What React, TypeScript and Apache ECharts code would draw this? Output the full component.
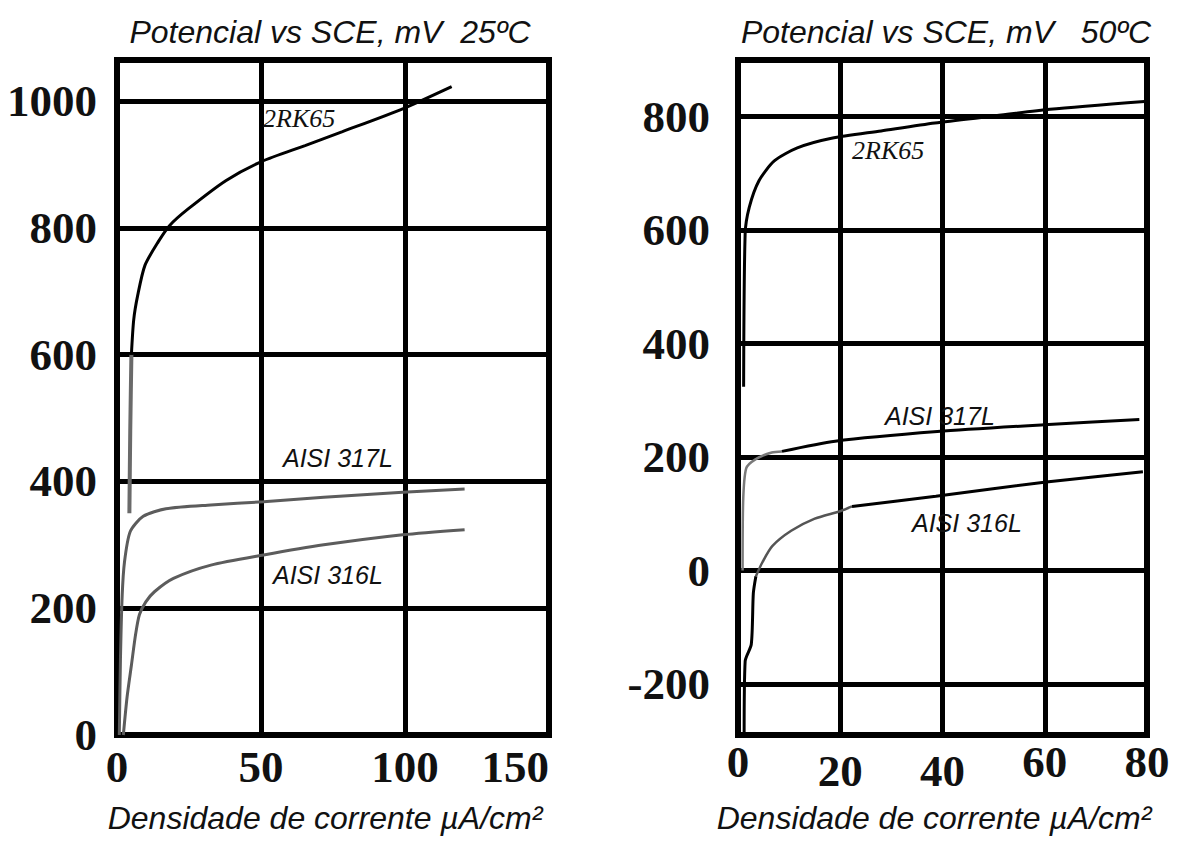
import React, { useEffect, useRef } from "react";
import * as echarts from "echarts";

type Pt = [number, number];

// ---- Axis settings (25 ºC panel) ----
const x25Min = 0;
const x25Max = 150;
const x25Step = 50;
const y25Min = 0;
const y25Max = 1065;
const y25Step = 200;

// ---- Axis settings (50 ºC panel) ----
const x50Min = 0;
const x50Max = 80;
const x50Step = 20;
const y50Min = -290;
const y50Max = 900;
const y50Split = 6;

// ---- Texts ----
const title25 = "Potencial vs SCE, mV  25ºC";
const title50 = "Potencial vs SCE, mV   50ºC";
const xName = "Densidade de corrente µA/cm²";
const nameRK = "2RK65";
const name317 = "AISI 317L";
const name316 = "AISI 316L";

// ---- 25 ºC curves: [current density µA/cm², potential mV] ----
const rk65at25Base: Pt[] = [[4.3, 350], [4.6, 480], [5.0, 600]];
const rk65at25: Pt[] = [
  [5.0, 600], [5.8, 655], [7.2, 694], [9.7, 741], [14.3, 778], [18.3, 804],
  [24.7, 830], [37.9, 875], [50.3, 905], [65.3, 930], [78.3, 952], [99.2, 988], [116.2, 1023],
];
const s317at25: Pt[] = [
  [0.8, 0], [1.2, 120], [1.8, 220], [2.6, 273], [4.6, 321], [9.1, 345], [17, 357],
  [32.6, 363], [50.9, 368], [71.8, 375], [99.2, 383], [120.7, 388],
];
const s316at25: Pt[] = [
  [2.2, 0], [3.5, 60], [5.0, 110], [6.5, 160], [7.8, 190], [10, 210], [13, 226],
  [19.6, 247], [32.6, 268], [50.9, 284], [71.8, 300], [99.2, 316], [120.7, 324],
];

// ---- 50 ºC curves ----
const rk65at50: Pt[] = [
  [1.1, 324], [1.4, 594], [2.2, 640], [4.1, 687], [7.1, 722], [11.6, 745], [18.3, 762],
  [28, 775], [38.5, 789], [49.8, 801], [61, 813], [79.5, 827],
];
const s317at50Start: Pt[] = [[0.9, 0], [1.0, 120], [1.6, 180], [3.4, 196], [6.6, 208], [8.6, 210]];
const s317at50: Pt[] = [[8.6, 210], [19, 228], [39, 245], [59.9, 257], [78.5, 266]];
const s316at50Low: Pt[] = [[1.2, -290], [1.4, -160], [2.6, -130], [3.0, -40], [3.5, -10]];
const s316at50Mid: Pt[] = [[3.5, -10], [4.8, 15], [6.7, 43], [10.4, 70], [14.9, 91], [20.1, 105], [22.3, 113]];
const s316at50High: Pt[] = [[22.3, 113], [38.7, 131], [60.3, 156], [79.2, 174]];

const SERIF = '"Liberation Serif", "Times New Roman", serif';
const SANS = '"Liberation Sans", Arial, sans-serif';

const tickLabel = {
  color: "#111",
  fontFamily: SERIF,
  fontWeight: "bold" as const,
  fontSize: 45,
};

const splitLine = { show: true, lineStyle: { color: "#000", width: 5 } };

function lineSeries(name: string, data: Pt[], idx: number, color: string, width: number) {
  return {
    name,
    type: "line",
    xAxisIndex: idx,
    yAxisIndex: idx,
    data,
    showSymbol: false,
    symbol: "none",
    smooth: 0.25,
    lineStyle: { color, width },
    z: 5,
  };
}

function label(text: string, x: number, y: number, family: string, size: number, align = "left") {
  return {
    type: "text",
    x,
    y,
    z: 10,
    style: {
      text,
      fill: "#111",
      fontFamily: family,
      fontStyle: "italic",
      fontSize: size,
      align,
      verticalAlign: "middle",
    },
  };
}

export default function App() {
  const ref = useRef<HTMLDivElement>(null);

  useEffect(() => {
    if (!ref.current) return;
    const chart = echarts.init(ref.current, undefined, { renderer: "svg" });
    const grey = "#5c5c5c";
    const option: any = {
      animation: false,
      backgroundColor: "#ffffff",
      grid: [
        { left: 117, top: 60, width: 432, height: 675, show: true, borderColor: "#000", borderWidth: 6, backgroundColor: "transparent" },
        { left: 738, top: 60, width: 409, height: 675, show: true, borderColor: "#000", borderWidth: 6, backgroundColor: "transparent" },
      ],
      xAxis: [
        {
          gridIndex: 0, type: "value", min: x25Min, max: x25Max, interval: x25Step,
          axisLine: { show: false }, axisTick: { show: false }, splitLine,
          axisLabel: { ...tickLabel, margin: 9, alignMaxLabel: "right" },
        },
        {
          gridIndex: 1, type: "value", min: x50Min, max: x50Max, interval: x50Step,
          axisLine: { show: false }, axisTick: { show: false }, splitLine,
          axisLabel: {
            ...tickLabel,
            margin: 4,
            formatter: (v: number) => (v === 20 || v === 40 ? `{lo|${v}}` : `{n|${v}}`),
            rich: {
              n: { ...tickLabel },
              lo: { ...tickLabel, padding: [9, 0, 0, 0] },
            },
          },
        },
      ],
      yAxis: [
        {
          gridIndex: 0, type: "value", min: y25Min, max: y25Max, interval: y25Step,
          axisLine: { show: false }, axisTick: { show: false }, splitLine,
          axisLabel: { ...tickLabel, margin: 20, formatter: (v: number) => (v % 200 === 0 ? String(v) : "") },
        },
        {
          gridIndex: 1, type: "value", min: y50Min, max: y50Max, splitNumber: y50Split,
          axisLine: { show: false }, axisTick: { show: false }, splitLine,
          axisLabel: { ...tickLabel, margin: 28, formatter: (v: number) => (v % 200 === 0 ? String(v) : "") },
        },
      ],
      series: [
        lineSeries("2RK65 25ºC base", rk65at25Base, 0, "#6a6a6a", 4),
        lineSeries("2RK65 25ºC", rk65at25, 0, "#000", 3),
        lineSeries("AISI 317L 25ºC", s317at25, 0, grey, 3),
        lineSeries("AISI 316L 25ºC", s316at25, 0, grey, 3),
        lineSeries("2RK65 50ºC", rk65at50, 1, "#000", 3),
        lineSeries("AISI 317L 50ºC start", s317at50Start, 1, "#7a7a7a", 2.5),
        lineSeries("AISI 317L 50ºC", s317at50, 1, "#000", 3),
        lineSeries("AISI 316L 50ºC low", s316at50Low, 1, "#000", 3),
        lineSeries("AISI 316L 50ºC mid", s316at50Mid, 1, "#555", 2.5),
        lineSeries("AISI 316L 50ºC high", s316at50High, 1, "#000", 3),
      ],
      graphic: [
        label(title25, 330, 32, SANS, 32, "center"),
        label(title50, 946, 32, SANS, 32, "center"),
        label(xName, 325, 818, SANS, 32, "center"),
        label(xName, 934, 818, SANS, 32, "center"),
        label(nameRK, 263, 118, SERIF, 26),
        label(nameRK, 852, 150, SERIF, 26),
        label(name317, 283, 458, SANS, 25),
        label(name316, 273, 575, SANS, 25),
        label(name317, 885, 416, SANS, 25),
        label(name316, 912, 523, SANS, 25),
      ],
    };
    chart.setOption(option);
    return () => chart.dispose();
  }, []);

  return (
    <div
      ref={ref}
      style={{ position: "fixed", left: 0, top: 0, width: 1188, height: 841, background: "#fff" }}
    />
  );
}
